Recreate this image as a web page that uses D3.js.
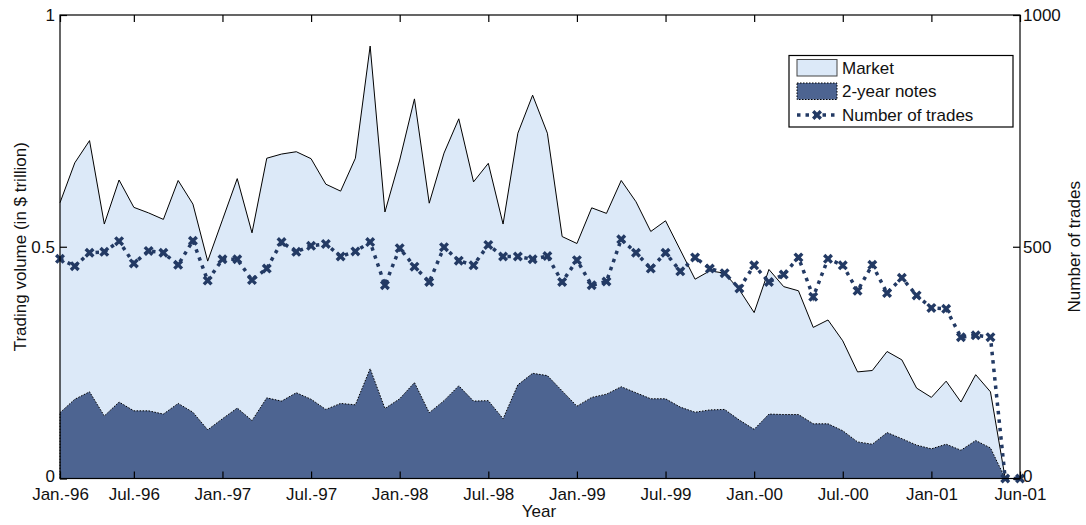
<!DOCTYPE html>
<html>
<head>
<meta charset="utf-8">
<script src="https://cdn.jsdelivr.net/npm/d3@7"></script>
<style>
  html, body { margin: 0; padding: 0; background: #fff; }
  text { font-family: "Liberation Sans", Arial, sans-serif; fill: #111; }
</style>
</head>
<body>
<svg id="chart" width="1086" height="525"></svg>
<script>
// Monthly observations, Jan 1996 – Jun 2001
const market = [
  0.595, 0.681, 0.729, 0.549, 0.644, 0.585, 0.573, 0.559, 0.643, 0.592,
  0.469, 0.558, 0.647, 0.530, 0.691, 0.700, 0.705, 0.690, 0.635, 0.620,
  0.691, 0.933, 0.575, 0.687, 0.819, 0.594, 0.702, 0.776, 0.640, 0.680,
  0.549, 0.745, 0.827, 0.745, 0.522, 0.507, 0.584, 0.572, 0.643, 0.597,
  0.533, 0.556, 0.493, 0.430, 0.448, 0.443, 0.407, 0.358, 0.451, 0.414,
  0.405, 0.326, 0.342, 0.297, 0.230, 0.233, 0.274, 0.256, 0.195, 0.175,
  0.210, 0.165, 0.224, 0.187, 0.000, 0.000
];
const twoYearNotes = [
  0.142, 0.171, 0.187, 0.135, 0.165, 0.146, 0.146, 0.139, 0.162, 0.143,
  0.105, 0.129, 0.152, 0.125, 0.174, 0.167, 0.185, 0.171, 0.149, 0.162,
  0.159, 0.237, 0.151, 0.172, 0.207, 0.142, 0.168, 0.200, 0.167, 0.168,
  0.129, 0.202, 0.227, 0.222, 0.189, 0.156, 0.175, 0.182, 0.198, 0.185,
  0.172, 0.172, 0.154, 0.143, 0.148, 0.149, 0.126, 0.106, 0.139, 0.138,
  0.138, 0.118, 0.118, 0.103, 0.079, 0.074, 0.099, 0.086, 0.072, 0.064,
  0.074, 0.061, 0.082, 0.066, 0.000, 0.000
];
const trades = [
  474, 458, 487, 489, 512, 464, 491, 487, 461, 513,
  427, 473, 473, 428, 453, 510, 489, 502, 506, 479,
  490, 510, 417, 497, 457, 424, 499, 470, 460, 504,
  479, 479, 473, 480, 424, 471, 417, 425, 516, 487,
  453, 487, 447, 477, 453, 443, 410, 460, 424, 440,
  477, 392, 474, 460, 405, 461, 400, 433, 395, 368,
  366, 305, 309, 305, 0, 0
];
// Tick positions (month index) and their labels on the time axis
const tickIndex  = [0, 5, 11, 17, 23, 29, 35, 41, 47, 53, 59, 65];
const tickLabels = ["Jan.-96", "Jul.-96", "Jan.-97", "Jul.-97", "Jan.-98", "Jul.-98",
                    "Jan.-99", "Jul.-99", "Jan.-00", "Jul.-00", "Jan-01", "Jun-01"];
const leftTicks  = [0, 0.5, 1];
const rightTicks = [0, 500, 1000];
const legendLabels = ["Market", "2-year notes", "Number of trades"];

const colMarket = "#dce9f8";
const colNotes  = "#4d6491";
const colTrades = "#233a64";

const L = 60, R = 1020, T = 15, B = 478.5;
const svg = d3.select("#chart");

const x  = d3.scaleLinear().domain([0, market.length - 1]).range([L, R]);
const yL = d3.scaleLinear().domain([0, 1]).range([B, T]);
const yR = d3.scaleLinear().domain([0, 1000]).range([B, T]);

const idx = d3.range(market.length);

// Market volume area
svg.append("path")
  .datum(idx)
  .attr("fill", colMarket)
  .attr("d", d3.area().x(i => x(i)).y0(yL(0)).y1(i => yL(market[i])));
svg.append("path")
  .datum(idx)
  .attr("fill", "none").attr("stroke", "#000").attr("stroke-width", 1)
  .attr("d", d3.line().x(i => x(i)).y(i => yL(market[i])));

// 2-year notes area with dotted edge
svg.append("path")
  .datum(idx)
  .attr("fill", colNotes)
  .attr("stroke", "#000").attr("stroke-width", 1).attr("stroke-dasharray", "1.5,1.5")
  .attr("d", d3.area().x(i => x(i)).y0(yL(0)).y1(i => yL(twoYearNotes[i])));

// Number of trades: thick dotted line with x markers
svg.append("path")
  .datum(idx)
  .attr("fill", "none").attr("stroke", colTrades)
  .attr("stroke-width", 3.5).attr("stroke-dasharray", "3.5,5")
  .attr("d", d3.line().x(i => x(i)).y(i => yR(trades[i])));

function cross(g, cx, cy, s) {
  g.append("path")
    .attr("d", `M${cx - s},${cy - s}L${cx + s},${cy + s}M${cx - s},${cy + s}L${cx + s},${cy - s}`)
    .attr("stroke", colTrades).attr("stroke-width", 3.4).attr("fill", "none");
}
const markers = svg.append("g");
idx.forEach(i => cross(markers, x(i), yR(trades[i]), 3.8));

// Frame
svg.append("rect")
  .attr("x", L).attr("y", T).attr("width", R - L).attr("height", B - T)
  .attr("fill", "none").attr("stroke", "#000").attr("stroke-width", 1.2);

// Axes (ticks point into the plot)
const fontSize = "17px";
const bottomAxis = d3.axisBottom(x).tickValues(tickIndex)
  .tickFormat((d, k) => tickLabels[k]).tickSizeInner(-7).tickSizeOuter(0).tickPadding(9);
const topAxis = d3.axisTop(x).tickValues(tickIndex).tickFormat("").tickSizeInner(-7).tickSizeOuter(0);
const leftAxis = d3.axisLeft(yL).tickValues(leftTicks).tickFormat(d3.format("~g"))
  .tickSizeInner(-7).tickSizeOuter(0).tickPadding(5);
const rightAxis = d3.axisRight(yR).tickValues(rightTicks).tickFormat(d3.format("d"))
  .tickSizeInner(-7).tickSizeOuter(0).tickPadding(3);

function styleAxis(g) {
  g.select(".domain").remove();
  g.selectAll("line").attr("stroke", "#000").attr("stroke-width", 1.2);
  g.selectAll("text").attr("font-size", fontSize)
    .attr("font-family", "Liberation Sans, Arial, sans-serif").attr("fill", "#111");
}
// Zero labels on the value axes sit a touch higher so they clear the date labels
function liftZero(g) {
  g.selectAll(".tick").filter(d => d === 0).select("text").attr("dy", "0.2em");
}
svg.append("g").attr("transform", `translate(0,${B})`).call(bottomAxis).call(styleAxis);
svg.append("g").attr("transform", `translate(0,${T})`).call(topAxis).call(styleAxis);
svg.append("g").attr("transform", `translate(${L},0)`).call(leftAxis).call(styleAxis).call(liftZero);
svg.append("g").attr("transform", `translate(${R},0)`).call(rightAxis).call(styleAxis).call(liftZero);

// Axis titles
svg.append("text").attr("x", 539).attr("y", 517).attr("text-anchor", "middle")
  .attr("font-size", fontSize).text("Year");
svg.append("text").attr("transform", `translate(26,${(T + B) / 2}) rotate(-90)`)
  .attr("text-anchor", "middle").attr("font-size", fontSize)
  .text("Trading volume (in $ trillion)");
svg.append("text").attr("transform", `translate(1080,${(T + B) / 2}) rotate(-90)`)
  .attr("text-anchor", "middle").attr("font-size", fontSize)
  .text("Number of trades");

// Legend
const lg = svg.append("g");
lg.append("rect").attr("x", 789).attr("y", 55.5).attr("width", 224).attr("height", 71.5)
  .attr("fill", "#fff").attr("stroke", "#000").attr("stroke-width", 1.2);
lg.append("rect").attr("x", 797).attr("y", 59.5).attr("width", 40).attr("height", 16.5)
  .attr("fill", colMarket).attr("stroke", "#444").attr("stroke-width", 1);
lg.append("rect").attr("x", 797).attr("y", 83).attr("width", 40).attr("height", 16.5)
  .attr("fill", colNotes).attr("stroke", "#000").attr("stroke-width", 1).attr("stroke-dasharray", "1.5,1.5");
lg.append("line").attr("x1", 797).attr("x2", 837).attr("y1", 115).attr("y2", 115)
  .attr("stroke", colTrades).attr("stroke-width", 3.5).attr("stroke-dasharray", "3.5,5");
cross(lg, 817, 115, 3.8);
const rowsY = [74, 97, 121];
legendLabels.forEach((t, k) => {
  lg.append("text").attr("x", 842).attr("y", rowsY[k]).attr("font-size", fontSize).text(t);
});
</script>
</body>
</html>
